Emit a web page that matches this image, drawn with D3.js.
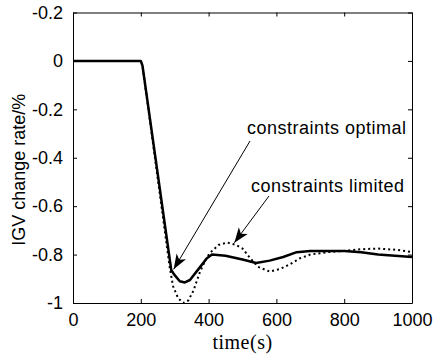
<!DOCTYPE html>
<html>
<head>
<meta charset="utf-8">
<script src="https://cdn.jsdelivr.net/npm/d3@7"></script>
<style>
  body { margin: 0; background: #fff; }
  svg { display: block; }
  .tick text { font-family: "Liberation Sans", Arial, sans-serif; font-size: 18px; fill: #000; }
</style>
</head>
<body>
<svg width="433" height="354"></svg>
<script>
// time (s) and IGV change rate (%)
var optTime = [0, 200, 205, 290, 300, 315, 330, 345, 370, 395, 410, 450, 500, 540, 580, 620, 660, 700, 800, 850, 900, 950, 1000];
var optRate = [0, 0, -0.02, -0.865, -0.885, -0.91, -0.915, -0.905, -0.86, -0.815, -0.8, -0.805, -0.82, -0.835, -0.825, -0.81, -0.79, -0.785, -0.785, -0.79, -0.8, -0.805, -0.81];

var limTime = [0, 200, 205, 285, 295, 310, 325, 340, 355, 375, 395, 410, 430, 455, 480, 500, 520, 545, 580, 610, 640, 670, 700, 750, 800, 850, 900, 950, 980, 1000];
var limRate = [0, 0, -0.02, -0.85, -0.93, -0.98, -1.0, -0.99, -0.95, -0.87, -0.81, -0.785, -0.76, -0.75, -0.76, -0.775, -0.81, -0.85, -0.87, -0.86, -0.84, -0.815, -0.8, -0.79, -0.785, -0.778, -0.775, -0.78, -0.785, -0.79];

var xTicks = [0, 200, 400, 600, 800, 1000];
var yTicks = [0.2, 0, -0.2, -0.4, -0.6, -0.8, -1];
var yTickLabels = ["-0.2", "0", "-0.2", "-0.4", "-0.6", "-0.8", "-1"];

// annotation texts, each pointing at [time, rate]
var noteText = ["constraints optimal", "constraints limited"];
var noteAt = [[291, -0.865], [470, -0.755]];

var svg = d3.select("svg"),
    pLeft = 73, pRight = 412, pTop = 12.5, pBottom = 303;

var x = d3.scaleLinear().domain([0, 1000]).range([pLeft, pRight]);
var y = d3.scaleLinear().domain([-1, 0.2]).range([pBottom, pTop]);

var defs = svg.append("defs");
defs.append("marker")
    .attr("id", "arrow")
    .attr("markerUnits", "userSpaceOnUse")
    .attr("viewBox", "-16 -6 17 12")
    .attr("markerWidth", 17)
    .attr("markerHeight", 12)
    .attr("refX", 0)
    .attr("refY", 0)
    .attr("orient", "auto")
  .append("path")
    .attr("d", "M0,0 L-15,-5.5 L-11,0 L-15,5.5 Z")
    .attr("fill", "#000");

defs.append("clipPath").attr("id", "plot")
  .append("rect")
    .attr("x", pLeft).attr("y", pTop)
    .attr("width", pRight - pLeft).attr("height", pBottom - pTop);

// axes, ticks pointing inward
svg.append("g")
    .attr("transform", "translate(0," + pBottom + ")")
    .call(d3.axisBottom(x).tickValues(xTicks).tickSize(-4).tickSizeOuter(0).tickPadding(10)
      .tickFormat(d3.format("d")));
svg.append("g")
    .attr("transform", "translate(0," + pTop + ")")
    .call(d3.axisTop(x).tickValues(xTicks).tickSize(-4).tickSizeOuter(0).tickFormat(""));
svg.append("g")
    .attr("transform", "translate(" + pLeft + ",0)")
    .call(d3.axisLeft(y).tickValues(yTicks).tickSize(-4).tickSizeOuter(0).tickPadding(10)
      .tickFormat(function(d, i) { return yTickLabels[i]; }));
svg.append("g")
    .attr("transform", "translate(" + pRight + ",0)")
    .call(d3.axisRight(y).tickValues(yTicks).tickSize(-4).tickSizeOuter(0).tickFormat(""));

svg.selectAll(".domain").attr("stroke", "#000");
svg.selectAll(".tick line").attr("stroke", "#000");

var line = d3.line()
    .x(function(d) { return x(d[0]); })
    .y(function(d) { return y(d[1]); });

svg.append("path")
    .datum(d3.zip(limTime, limRate))
    .attr("clip-path", "url(#plot)")
    .attr("fill", "none")
    .attr("stroke", "#000")
    .attr("stroke-width", 2)
    .attr("stroke-dasharray", "2,3")
    .attr("d", line);

svg.append("path")
    .datum(d3.zip(optTime, optRate))
    .attr("clip-path", "url(#plot)")
    .attr("fill", "none")
    .attr("stroke", "#000")
    .attr("stroke-width", 2.5)
    .attr("stroke-linejoin", "round")
    .attr("d", line);

// annotations
var notePos = [[247, 134], [251, 192]];
var arrowStart = [[250, 141], [269, 196]];

svg.selectAll(".note")
    .data(noteText)
  .enter().append("text")
    .attr("class", "note")
    .attr("x", function(d, i) { return notePos[i][0]; })
    .attr("y", function(d, i) { return notePos[i][1]; })
    .attr("font-family", "Liberation Sans, Arial, sans-serif")
    .attr("font-size", "18px")
    .attr("letter-spacing", "0.5px")
    .text(function(d) { return d; });

svg.selectAll(".arrow")
    .data(noteAt)
  .enter().append("line")
    .attr("class", "arrow")
    .attr("x1", function(d, i) { return arrowStart[i][0]; })
    .attr("y1", function(d, i) { return arrowStart[i][1]; })
    .attr("x2", function(d) { return x(d[0]) + 2; })
    .attr("y2", function(d) { return y(d[1]) - 1; })
    .attr("stroke", "#000")
    .attr("stroke-width", 1)
    .attr("marker-end", "url(#arrow)");

svg.append("text")
    .attr("transform", "translate(25," + ((pTop + pBottom) / 2 + 12) + ") rotate(-90)")
    .attr("text-anchor", "middle")
    .attr("font-family", "Liberation Sans, Arial, sans-serif")
    .attr("font-size", "18px")
    .text("IGV change rate/%");

svg.append("text")
    .attr("x", (pLeft + pRight) / 2)
    .attr("y", 349)
    .attr("text-anchor", "middle")
    .attr("font-family", "Liberation Serif, Times New Roman, serif")
    .attr("font-size", "20px")
    .attr("letter-spacing", "0.5px")
    .text("time(s)");
</script>
</body>
</html>
